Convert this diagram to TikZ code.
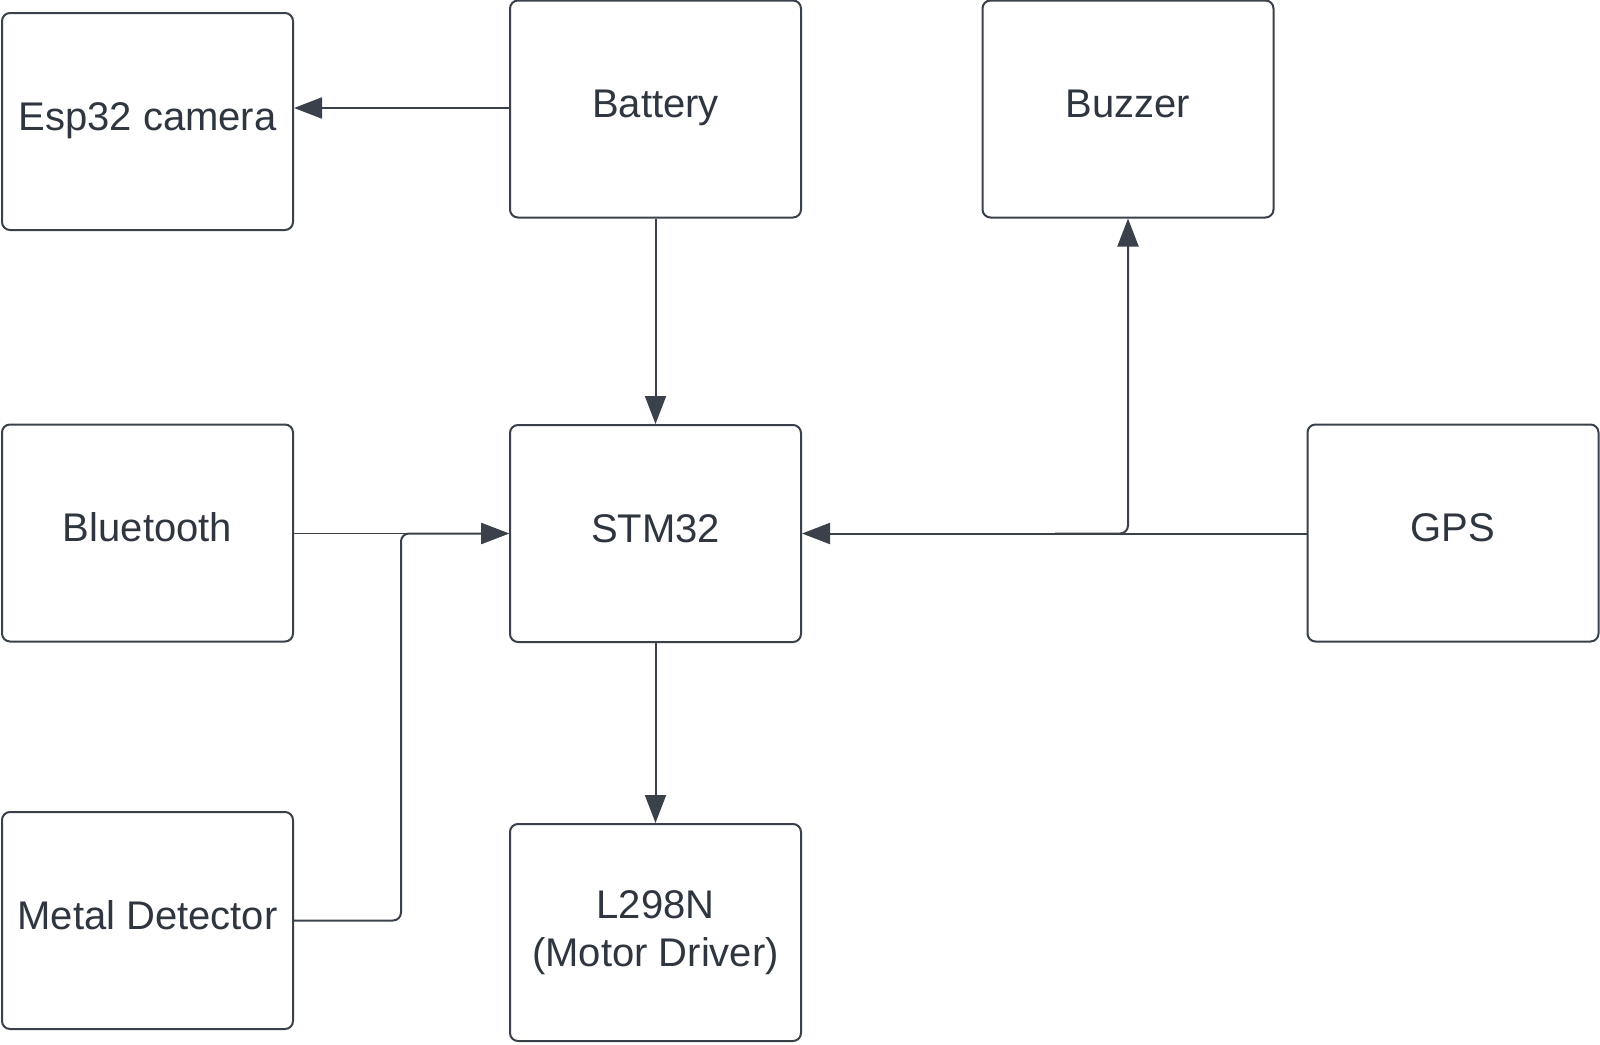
\documentclass[tikz,border=0pt]{standalone}
\usepackage{fontspec}
\setmainfont{Liberation Sans}
\usetikzlibrary{arrows.meta}
\definecolor{linec}{RGB}{58,65,74}
\definecolor{textc}{RGB}{47,54,64}
\begin{document}
\begin{tikzpicture}[x=1pt,y=-1pt,
  blkbase/.style={draw=linec, line width=2pt, rounded corners=8pt, fill=white,
    minimum width=291pt, minimum height=217pt, inner sep=0pt,
    text=textc, font=\fontsize{40}{49}\selectfont, align=center},
  blk/.style={blkbase, text height=29pt, text depth=12pt},
  conn/.style={draw=linec, line width=2pt, -{Triangle[length=28pt,width=21pt]}},
  thinconn/.style={draw=linec, line width=1.2pt, -{Triangle[length=28pt,width=21pt]}}
]
\useasboundingbox[fill=white] (0,0) rectangle (1600,1044);

\node[blk] (esp) at (147.5,121.5) {Esp32 camera};
\node[blk] (bat) at (655.5,109) {Battery};
\node[blk] (buz) at (1128,109) {Buzzer};
\node[blk] (bt)  at (147.5,533) {Bluetooth};
\node[blk] (stm) at (655.5,533.5) {STM32};
\node[blk] (gps) at (1453,533) {GPS};
\node[blk] (met) at (147.5,920.5) {Metal Detector};
\node[blkbase] (drv) at (655.5,932.5) {L298N\\[-1pt](Motor Driver)};

\coordinate (mj) at (401,533.5);
\coordinate (gj) at (1055,533.5);

\draw[conn] (bat.west |- 0,108) -- (esp.east |- 0,108);
\draw[conn] (bat.south) -- (stm.north);
\draw[conn] (stm.south) -- (drv.north);
\draw[thinconn] (bt.east |- stm.west) -- (stm.west);
\draw[conn, rounded corners=8pt] (met.east) -| (mj) -- (stm.west);
\draw[conn] (gps.west |- stm.east) -- (stm.east);
\draw[conn, rounded corners=8pt] (gj) -| (buz.south);
\end{tikzpicture}
\end{document}
